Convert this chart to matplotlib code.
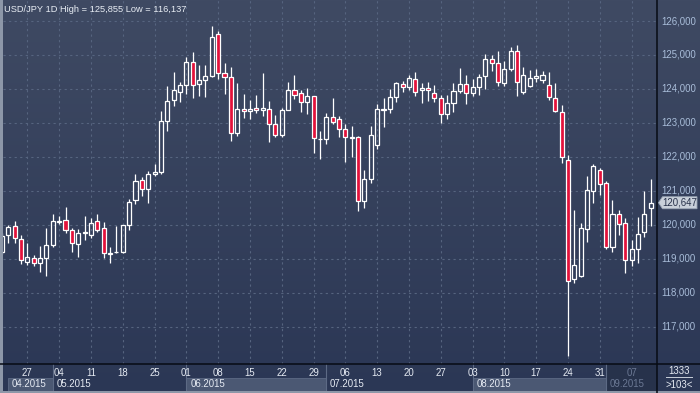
import numpy as np
import pandas as pd
import matplotlib
matplotlib.use('Agg')
import matplotlib.pyplot as plt
from matplotlib.patches import Rectangle, Polygon
from matplotlib.lines import Line2D

plt.rcParams['font.family'] = ['Liberation Sans', 'DejaVu Sans']

# daily candles USD/JPY, 21.04.2015 - 10.09.2015
dates = pd.bdate_range('2015-04-21', '2015-09-10')
opens = [119.20, 119.69, 119.95, 119.57, 118.89, 119.03, 118.86, 119.01, 119.39, 120.09,
         120.13, 119.83, 119.42, 119.77, 119.69, 120.10, 119.89, 119.17, 119.19, 119.19,
         119.98, 120.72, 121.33, 121.04, 121.49, 121.56, 123.05, 123.67, 123.92, 124.11,
         124.78, 124.14, 124.25, 124.37, 125.61, 124.46, 124.34, 122.69, 123.40, 123.34,
         123.43, 123.37, 123.40, 122.96, 122.63, 123.37, 123.96, 123.87, 123.60, 123.78,
         122.51, 122.51, 123.16, 123.10, 122.81, 122.59, 122.57, 120.71, 121.34, 122.35,
         123.42, 123.40, 123.75, 124.13, 124.05, 124.28, 123.97, 124.03, 123.87, 123.74,
         123.25, 123.58, 123.93, 124.14, 123.87, 124.05, 124.37, 124.87, 124.75, 124.16,
         124.59, 125.11, 123.92, 124.09, 124.31, 124.27, 124.11, 123.72, 123.32, 121.91,
         118.39, 118.49, 119.88, 120.98, 121.61, 121.22, 119.35, 120.31, 120.04, 118.96,
         119.27, 119.79, 120.48]
highs = [119.75, 119.98, 120.11, 119.69, 119.45, 119.10, 119.37, 119.91, 120.33, 120.27,
         120.51, 119.90, 119.87, 120.26, 120.19, 120.33, 120.08, 119.35, 119.96, 120.00,
         120.76, 121.49, 121.41, 121.59, 121.79, 123.35, 124.10, 124.51, 124.20, 124.94,
         125.08, 124.70, 124.70, 125.855, 125.71, 124.77, 124.66, 124.18, 123.85, 123.67,
         123.82, 124.46, 123.64, 123.23, 123.43, 124.20, 124.41, 123.97, 124.02, 123.80,
         122.76, 123.28, 123.72, 123.20, 122.97, 122.91, 122.60, 121.61, 122.91, 123.56,
         123.74, 123.99, 124.21, 124.24, 124.41, 124.49, 124.17, 124.19, 124.11, 123.82,
         123.82, 124.16, 124.61, 124.41, 124.28, 124.43, 125.02, 125.00, 125.12, 124.82,
         125.22, 125.29, 124.64, 124.56, 124.59, 124.53, 124.51, 124.18, 123.53, 122.05,
         120.43, 120.06, 121.43, 121.79, 121.66, 121.30, 120.73, 120.43, 120.19, 119.55,
         120.24, 121.00, 121.34]
lows = [119.15, 119.45, 119.45, 118.83, 118.80, 118.78, 118.62, 118.50, 119.35, 120.01,
        119.75, 119.21, 119.06, 119.55, 119.60, 119.78, 119.02, 118.88, 119.18, 119.16,
        119.83, 120.60, 120.86, 120.65, 121.44, 121.49, 122.77, 123.51, 123.62, 123.86,
        123.74, 123.80, 123.77, 124.34, 124.30, 123.86, 122.47, 122.62, 123.15, 123.12,
        123.30, 123.21, 122.45, 122.57, 122.57, 123.37, 123.71, 123.33, 123.25, 122.12,
        121.94, 122.37, 122.97, 122.59, 121.86, 122.00, 120.41, 120.48, 121.22, 122.22,
        122.87, 123.28, 123.60, 123.92, 123.97, 123.78, 123.58, 123.65, 123.61, 123.01,
        123.10, 123.33, 123.89, 123.57, 123.80, 123.82, 124.00, 124.54, 124.10, 124.10,
        124.54, 123.80, 123.85, 124.06, 124.21, 124.18, 123.67, 123.33, 121.83, 116.137,
        118.27, 118.47, 119.49, 120.65, 120.87, 119.27, 119.21, 119.70, 118.59, 118.78,
        118.86, 119.63, 119.96]
closes = [119.67, 119.92, 119.61, 118.96, 119.04, 118.87, 119.01, 119.39, 120.10, 120.12,
          119.83, 119.45, 119.75, 119.79, 120.04, 119.85, 119.16, 119.13, 119.21, 119.98,
          120.68, 121.30, 121.05, 121.48, 121.56, 123.05, 123.63, 123.96, 124.11, 124.78,
          124.11, 124.25, 124.37, 125.52, 124.46, 124.35, 122.69, 123.40, 123.34, 123.42,
          123.37, 123.43, 122.96, 122.63, 123.37, 123.96, 123.81, 123.60, 123.78, 122.54,
          122.52, 123.16, 123.02, 122.81, 122.57, 122.54, 120.71, 121.34, 122.63, 123.42,
          123.37, 123.77, 124.18, 124.06, 124.31, 123.91, 124.03, 123.97, 123.74, 123.26,
          123.58, 123.94, 124.14, 123.87, 124.05, 124.36, 124.87, 124.75, 124.21, 124.58,
          125.11, 124.19, 124.40, 124.31, 124.37, 124.41, 123.77, 123.36, 122.00, 118.35,
          118.81, 119.89, 121.02, 121.73, 121.19, 119.35, 120.31, 120.02, 118.96, 119.29,
          119.72, 120.31, 120.647]
price_ticks = [117, 118, 119, 120, 121, 122, 123, 124, 125, 126]
title = 'USD/JPY 1D High = 125,855 Low = 116,137'
bars_info = '1333'

W, H = 700, 393


def px_box(x0, y0, x1, y1):
    return [x0 / W, 1 - y1 / H, (x1 - x0) / W, (y1 - y0) / H]


def fmt(p):
    return ('%.3f' % p).replace('.', ',')


def main():
    fig = plt.figure(figsize=(W / 100, H / 100), dpi=100)

    # background gradient
    bg = fig.add_axes([0, 0, 1, 1])
    top = np.array([63, 74, 99]) / 255
    bot = np.array([43, 55, 85]) / 255
    t = np.linspace(0, 1, 256)[:, None]
    grad = top[None, :] * (1 - t) + bot[None, :] * t
    bg.imshow(grad[:, None, :], extent=[0, 1, 0, 1], aspect='auto')
    bg.axis('off')

    xlim = (0.17, 103.0)
    ylim = (115.897, 126.619)
    n = len(closes)
    x = np.arange(n)
    mondays = [i for i, d in enumerate(dates) if d.weekday() == 0]
    month_start = [i for i in range(n) if i == 0 or dates[i].month != dates[i - 1].month]

    ax = fig.add_axes(px_box(3, 0, 657, 364))
    ax.set_facecolor('none')
    ax.set_xlim(*xlim)
    ax.set_ylim(*ylim)
    ax.axis('off')
    for i in mondays:
        ax.axvline(i, color='#56647f', lw=0.8, ls=(0, (2, 3)), zorder=1)
    for p in price_ticks:
        ax.axhline(p, color='#56647f', lw=0.8, ls=(0, (2, 3)), zorder=1)

    w = 0.64
    for i in range(n):
        o, h, l, c = opens[i], highs[i], lows[i], closes[i]
        b0, b1 = min(o, c), max(o, c)
        ax.vlines(x[i], b1, h, color='white', lw=0.9, zorder=2)
        ax.vlines(x[i], l, b0, color='white', lw=0.9, zorder=2)
        fc = '#e3123b' if c < o else 'none'
        ax.add_patch(Rectangle((x[i] - w / 2, b0), w, max(b1 - b0, 0.005),
                               facecolor=fc, edgecolor='white', lw=0.9, zorder=3))

    # right price panel
    ax2 = fig.add_axes(px_box(657, 0, 700, 364))
    ax2.set_facecolor('none')
    ax2.set_xlim(0, 43)
    ax2.set_ylim(*ylim)
    ax2.axis('off')
    for p in price_ticks:
        ax2.text(4, p, fmt(p), color='#a9bdd9', fontsize=6.9, va='center', ha='left')
    last = closes[-1]
    hh = 6 / 33.95
    ax2.add_patch(Polygon([(1.5, last), (5.5, last + hh), (40, last + hh),
                           (40, last - hh), (5.5, last - hh)], closed=True,
                          facecolor='#c9d0da', edgecolor='#9aa5b5', lw=0.6))
    ax2.text(23, last, fmt(last), color='#27314a', fontsize=6.9, va='center', ha='center')

    # bottom date panel
    axb = fig.add_axes(px_box(3, 364, 657, 393))
    axb.set_facecolor('#3d4964')
    axb.set_xlim(*xlim)
    axb.set_ylim(29, 0)
    axb.axis('off')
    last_m = month_start[-1]
    axb.add_patch(Rectangle((last_m, 0), xlim[1] - last_m, 29, facecolor='#27324b', lw=0))
    bounds = month_start + [xlim[1]]
    for k, s in enumerate(month_start):
        s0 = max(s, 1)
        e = bounds[k + 1]
        dim = s == last_m
        if dates[s].month % 2 == 0 and not dim:
            axb.add_patch(Rectangle((s0, 14), e - s0, 13, facecolor='#4b5873',
                                    edgecolor='#5d6a85', lw=0.6))
        if k > 0:
            axb.plot([s, s], [0, 27], color='#5d6a85', lw=0.8)
        axb.text(s0 + 0.6, 20, dates[s].strftime('%m.%Y'), fontsize=6.9,
                 color='#6b7894' if dim else '#e6ebf3', va='center', ha='left')
    for i in mondays:
        dim = i >= last_m
        axb.text(i, 8.7, dates[i].strftime('%d'), fontsize=6.9,
                 color='#6b7894' if dim else '#e6ebf3', va='center', ha='center')

    # corner cell
    ax3 = fig.add_axes(px_box(657, 364, 700, 393))
    ax3.set_facecolor('#3d4964')
    ax3.set_xlim(0, 43)
    ax3.set_ylim(29, 0)
    ax3.axis('off')
    ax3.text(22, 7.5, bars_info, fontsize=6.9, color='#e6ebf3', ha='center', va='center')
    ax3.plot([9, 35], [13, 13], color='#c9d0da', lw=0.7)
    ax3.text(22, 20.5, '>%d<' % n, fontsize=6.9, color='#e6ebf3', ha='center', va='center')

    # frame lines
    fig.add_artist(Line2D([657 / W, 657 / W], [0, 1], color='#070b14', lw=1.1))
    fig.add_artist(Line2D([0, 1], [1 - 364 / H, 1 - 364 / H], color='#070b14', lw=1.1))
    fig.add_artist(Rectangle((0, 0), 2.5 / W, 1, facecolor='#8d97a8', lw=0, transform=fig.transFigure))
    fig.add_artist(Rectangle((0, 0), 1, 2 / H, facecolor='#8d97a8', lw=0, transform=fig.transFigure))

    fig.text(4 / W, 1 - 10 / H, title, fontsize=6.7, color='#e8edf4', va='center', ha='left')

    fig.savefig('out.png', dpi=100)


if __name__ == '__main__':
    main()
